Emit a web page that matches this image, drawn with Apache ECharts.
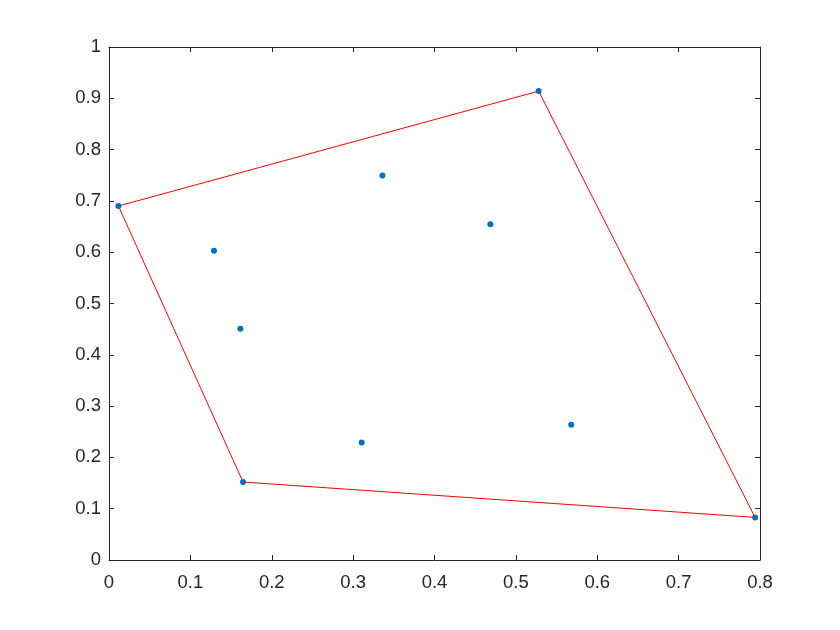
<!DOCTYPE html>
<html><head><meta charset="utf-8">
<script src="https://cdn.jsdelivr.net/npm/echarts@6/dist/echarts.min.js"></script>
<style>html,body{margin:0;padding:0;background:#fff}#c{width:840px;height:630px}</style>
</head><body><div id="c"></div>
<script>
const pointsX = [0.0116, 0.528, 0.794, 0.1647, 0.129, 0.1615, 0.3105, 0.4687, 0.568, 0.336];
const pointsY = [0.690, 0.914, 0.083, 0.152, 0.603, 0.451, 0.229, 0.6546, 0.2635, 0.7495];
const hullX = [0.0116, 0.528, 0.794, 0.1647, 0.0116];
const hullY = [0.690, 0.914, 0.083, 0.152, 0.690];

const chart = echarts.init(document.getElementById('c'));
const axisCommon = {
  axisLine: {show: true, onZero: false, lineStyle: {color: '#262626', width: 1}},
  axisTick: {show: true, inside: true, length: 5, lineStyle: {color: '#262626'}},
  splitLine: {show: false}
};
const lbl = {color: '#262626', fontFamily: 'Liberation Sans, Arial, sans-serif', fontSize: 18.5};
chart.setOption({
  animation: false,
  backgroundColor: '#fff',
  grid: {left: 109, right: 80, top: 47, bottom: 70, containLabel: false},
  xAxis: [
    Object.assign({type: 'value', min: 0, max: 0.8, interval: 0.1, position: 'bottom',
      axisLabel: Object.assign({margin: 13, formatter: v => +v.toFixed(1) + ''}, lbl)}, axisCommon),
    Object.assign({type: 'value', min: 0, max: 0.8, interval: 0.1, position: 'top',
      axisLabel: {show: false}}, axisCommon)
  ],
  yAxis: [
    Object.assign({type: 'value', min: 0, max: 1, interval: 0.1, position: 'left',
      axisLabel: Object.assign({margin: 8, formatter: v => +v.toFixed(1) + ''}, lbl)}, axisCommon),
    Object.assign({type: 'value', min: 0, max: 1, interval: 0.1, position: 'right',
      axisLabel: {show: false}}, axisCommon)
  ],
  series: [
    {type: 'line', data: hullX.map((x, i) => [x, hullY[i]]), showSymbol: false, symbol: 'none',
     lineStyle: {color: '#ff0000', width: 1}, z: 2},
    {type: 'scatter', data: pointsX.map((x, i) => [x, pointsY[i]]), symbol: 'circle', symbolSize: 6,
     itemStyle: {color: '#0072BD', opacity: 1}, z: 3}
  ]
});
</script></body></html>
